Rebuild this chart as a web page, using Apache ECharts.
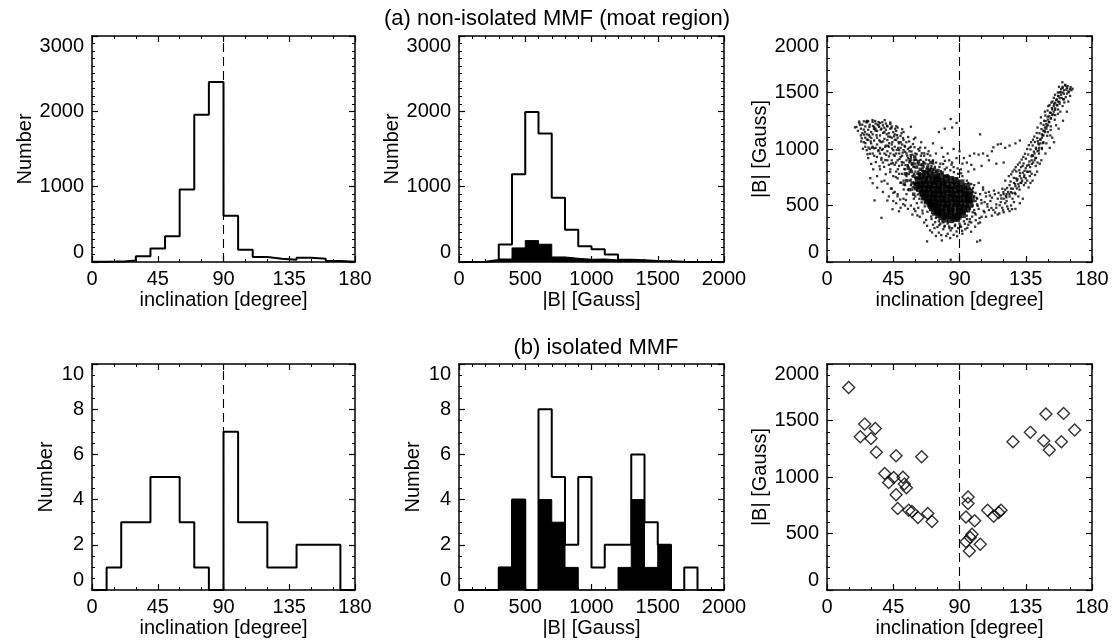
<!DOCTYPE html>
<html><head><meta charset="utf-8">
<script src="https://cdn.jsdelivr.net/npm/echarts@6/dist/echarts.min.js"></script>
<style>html,body{margin:0;padding:0;background:#fff}#c{width:1112px;height:644px}</style>
</head><body><div id="c"></div>
<script>
// ---------- data ----------
const incEdges = [0,10,20,30,40,50,60,70,80,90,100,110,120,130,140,150,160,170,180];
const bEdges = [0,100,200,300,400,500,600,700,800,900,1000,1100,1200,1300,1400,1500,1600,1700,1800,1900,2000];
const incTicks = [0,45,90,135,180];
const bTicks = [0,500,1000,1500,2000];

// (a) non-isolated MMF (moat region)
const aIncCounts = [2,5,20,75,178,342,964,1956,2391,613,164,67,44,31,58,44,13,2];
const aBOpen   = [0,3,27,231,1164,1991,1707,853,427,209,169,98,31,22,13,9,4,0,0,0];
const aBFilled = [0,0,0,40,187,284,236,67,49,36,40,27,18,22,13,9,4,0,0,0];

// (b) isolated MMF
const bIncCounts = [0,1,3,3,5,5,3,1,0,7,3,3,1,1,2,2,2,0];
const bBOpen   = [0,0,0,1,4,0,8,5,2,5,1,2,2,6,3,2,0,1,0,0];
const bBFilled = [0,0,0,1,4,0,4,3,1,0,0,0,1,4,1,2,0,0,0,0];

const bScatter = [
[14.7,1793],[25.6,1468],[22.6,1356],[32.8,1430],[29.9,1341],[33.5,1220],[46.9,1188],[64.3,1179],[39.2,1031],[41.9,951],[45.3,996],[51.6,998],[52.5,937],[53.9,905],[46.9,842],[48.0,721],[55.5,706],[57.7,694],[61.8,641],[68.4,677],[71.3,606],
[95.8,824],[95.8,765],[94.4,647],[100.3,612],[98.5,493],[97.3,464],[94.4,428],[96.7,346],[104.1,405],[109.1,706],[113.2,653],[116.6,685],[118.2,706],[126.3,1312],[138.1,1395],[147.2,1321],[148.7,1557],[151.0,1238],[160.7,1563],[159.2,1312],[168.2,1415]];

// scatter (a): hand-read dot positions [inclination, |B|]
const aArm = [
[20,1195],[22,1230],[23,1180],[24,1215],[21,1160],[25,1245],[24,1140],[26,1100],[25,1060],[23,1120],
[26,1200],[27,1235],[28,1170],[27,1130],[29,1215],[28,1080],[26,1020],[29,1000],[30,1150],[28,1245],[29,1110],[27,990],[30,1050],
[31,1240],[32,1195],[31,1130],[33,1225],[32,1075],[34,1160],[33,1010],[31,960],[34,1100],[35,1210],[32,940],[34,1040],[35,990],[33,1180],[31,1020],
[36,1230],[37,1180],[36,1120],[38,1210],[37,1060],[39,1150],[38,1000],[36,960],[39,1090],[40,1225],[37,920],[40,1030],[38,880],[39,960],[36,1010],[40,1170],
[41,1200],[42,1140],[41,1080],[43,1180],[42,1020],[44,1100],[43,960],[41,900],[44,1040],[45,1150],[42,860],[45,990],[43,820],[44,900],[45,760],[41,980],[44,1200],
[46,1130],[47,1080],[46,1020],[48,1100],[47,960],[49,1050],[48,900],[46,860],[49,990],[50,1060],[47,800],[50,930],[48,740],[49,850],[50,700],[46,940],[47,1160],[50,1010],[49,780],
[51,1040],[52,990],[51,940],[53,1020],[52,880],[54,960],[53,820],[51,780],[54,900],[55,1000],[52,720],[55,850],[53,680],[54,760],[55,640],[51,860],[52,1080],[55,920],[54,600],
[56,980],[57,930],[56,880],[58,950],[57,820],[59,900],[58,760],[56,720],[59,840],[60,960],[57,680],[60,800],[58,640],[59,700],[60,580],[56,800],[57,1020],[60,870],
[30,868],[31,697],[37,391],[41,544],[34,760],[28,920],[38,620],[42,580],[45,540],[47,520],[44,650],[36,820],[39,720],[48,600],[50,480],[52,560],[53,500],[46,620],
[19,1191],[57,1197],[48,1190],[52,1150],[43,1235]];
const aArm2 = [
[22.4,1213],[24.9,1172],[27.3,1249],[25.1,1127],[28.8,1196],[29.7,1067],[31.9,1178],[30.5,1011],[32.7,1248],[33.6,1122],[34.9,981],[35.4,1196],[36.2,1067],[37.6,1237],[36.9,905],[38.2,1142],[39.5,1019],[38.8,842],[40.9,1205],[41.6,1111],[40.2,948],[42.3,1052],[43.7,1186],[42.9,796],[44.2,1005],[45.6,1112],[44.8,874],[46.3,1179],[47.4,992],[46.7,752],[48.6,1061],[49.3,912],[48.1,821],[50.6,1139],[51.4,968],[50.1,703],[52.7,1028],[53.3,858],[52.1,642],[54.5,941],[55.8,1067],[54.2,782],[56.3,891],[57.4,978],[56.9,728],[58.7,844],[59.4,1016],[58.2,661],[60.6,905],[61.3,781],[60.1,685],[62.5,862],[63.8,940],[62.2,735],[64.6,808],[65.3,887],[61.7,598],[63.1,675],
[23.6,1095],[26.1,1052],[28.2,1013],[27.5,954],[33.2,884],[35.7,847],[31.4,820],[39.9,777],[41.1,693],[43.4,650],[45.1,612],[47.9,581],[49.7,553],[51.8,512],[53.6,548],[34.1,658],[29.4,742],[37.1,712],[32.3,545],[44.5,467],[48.9,449],
[26.7,1242],[30.9,1256],[35.0,1238],[39.2,1255],[43.0,1222],[47.0,1201],[51.1,1175],[55.1,1106],[59.0,1088],[63.3,1012],[66.1,962],[67.4,905],[68.8,864],[66.7,1011],[70.2,942],[71.9,890],[73.3,842],[69.6,812],[65.9,768],[67.8,736],
[21.8,1243],[23.2,1067],[24.4,1002],[25.8,1151],[27.1,1083],[28.4,1125],[29.1,958],[30.1,1098],[31.2,1203],[32.1,1005],[32.9,1163],[33.9,930],[34.4,1215],[35.5,1077],[36.5,1172],[37.2,992],[38.1,1067],[38.9,1189],[39.6,902],[40.5,1131],[41.4,1029],[42.1,935],[42.8,1108],[43.6,870],[44.4,1060],[45.3,950],[46.1,1081],[46.9,880],[47.6,1123],[48.3,1010],[49.1,960],[49.9,1116],[50.8,884],[51.6,1097],[52.5,823],[53.1,975],[53.9,1060],[54.8,857],[55.6,778],[56.1,1012],[56.8,945],[57.6,862],[58.4,1044],[59.2,781],[59.9,905],[60.9,955],[61.8,872],[62.7,985],[63.6,904],[64.4,962],[65.7,845],[66.9,870],[67.6,825],[68.3,955],[69.4,900],[70.7,832],[72.2,872],[74.1,880],
[76.4,842],[78.9,868],[81.3,835],[83.8,812],[86.2,795],[88.7,828],[91.1,785],[77.2,805],[80.1,895],[84.6,862]];
const aCore = [
[66,720],[69,730],[72,715],[75,725],[78,710],[84,730],
[64,680],[67,690],[70,675],[73,685],[76,670],[79,690],[82,680],[85,675],[88,690],
[66,640],[69,650],[72,635],[75,645],[78,630],[81,650],[84,640],[87,635],[90,650],[93,640],
[67,600],[70,610],[73,595],[76,605],[79,590],[82,610],[85,600],[88,595],[91,610],[94,600],[96,590],
[69,560],[72,570],[75,555],[78,565],[81,550],[84,570],[87,560],[90,555],[93,565],[96,550],
[70,520],[73,530],[76,515],[79,525],[82,510],[85,530],[88,520],[91,515],[94,525],
[72,480],[75,490],[78,475],[81,485],[84,470],[87,490],[90,480],[93,475],
[75,440],[78,450],[81,435],[84,445],[87,430],[90,450],
[78,400],[82,410],[86,395],[89,405],
[64,760],[67,780],[70,800],[73,770],[62,720],[61,680],[63,650],[65,610],[66,575],[68,540],[71,500],[73,455],[76,420],[80,380],[84,375],[88,385],[92,420],[95,470],[97,510],[98,560],[97,620],[95,670],[91,700],[87,720],[81,740],[77,760],[74,740]];
const aTransition = [
[56.5,905],[58.2,870],[59.6,930],[60.8,840],[62.1,890],[63.4,820],[64.8,860],[66.2,800],[57.3,800],[59.1,760],[61.2,745],[55.2,830],[57.8,700],[60.3,650],[62.8,780],[65.1,700],[68.4,840],[70.6,880],[72.9,820],[75.3,810],[78.1,790],[80.6,760],[69.2,760],[54.1,720],[56.2,640],[58.9,600],[53.3,780],[52.4,690]];
const aHalo = [
[62,800],[65,830],[68,790],[71,850],[74,800],[77,870],[80,820],[83,900],[86,840],[89,780],[92,760],[95,720],[98,690],[63,760],[66,880],[70,760],[76,780],[82,770],[88,740],[64,860],[72,900],[79,930],[85,880],[91,820],[60,740],[62,700],[61,640],[63,610],
[97,650],[99,620],[100,580],[98,540],[99,500],[97,470],[95,450],[100,460],[101,540],[96,700],
[70,460],[72,420],[74,390],[76,360],[79,350],[82,340],[85,360],[88,370],[91,400],[93,430],[95,410],[97,380],[69,490],[71,380],[67,530],[65,560],[64,590],
[99.2,655],[100.8,612],[101.6,568],[102.3,497],[100.4,433],[98.6,402],[96.8,356],[93.7,338],[90.6,322],[86.9,318],[83.2,301],[79.7,312],[76.3,326],[73.4,352],[70.8,402],[68.2,445],[66.4,492],[64.3,528],[62.7,560]];
const aLow = [
[68,182],[78,191],[104,191],[70,280],[73,300],[76,260],[79,290],[82,250],[85,300],[88,270],[91,310],[94,290],[72,330],[75,310],[80,320],[84,280],[87,330],[90,340],[93,360],[96,330],[98,350],[66,350],[68,320],[63,400],[65,430],[60,450],[58,420],[55,470],[57,500],[61,520],[74,230],[81,230],[86,240],[89,300],[92,250],[77,340],[83,315],[95,380],[62,480],[59,560],[84,20],
[71.4,262],[77.6,238],[83.7,212],[88.4,228],[91.8,276],[95.3,302],[97.9,268],[100.6,312],[102.8,342],[67.3,372],[64.8,455],[61.4,412],[59.2,470]];
const aRight = [
[101,420],[103,470],[105,520],[107,440],[109,490],[111,540],[113,460],[115,510],[117,430],[119,480],[121,520],[123,470],[125,500],[127,530],[102,560],[104,600],[106,640],[108,580],[110,620],[112,570],[114,600],[116,560],[118,590],[120,560],[122,600],[124,580],[126,560],[128,600],[130,580],[100,680],[103,700],[106,660],[101,370],[104,350],[108,400],[112,410],[116,420],[120,440],[124,450],[128,470],[131,520],[133,560],[105,400],[110,460],[115,480],[118,530],[122,540],[99,440],[102,510],[107,530],
[103.6,388],[106.4,452],[108.9,512],[111.7,478],[114.2,438],[117.3,502],[119.6,458],[122.4,492],[125.7,468],[104.8,548],[107.7,612],[110.6,588],[113.4,632],[116.5,612],[119.1,648],[121.8,572],[124.9,618]];
const aRise = [
[120,600],[121,640],[123,620],[124,680],[125,650],[127,700],[128,670],[129,720],[130,690],[131,760],[132,740],[133,790],[134,770],[135,830],[136,800],[137,860],[138,840],[139,900],[140,880],[140,940],[141,960],[142,920],[142,1000],[143,980],[144,1040],[144,1010],[145,1080],[145,1050],[146,1100],[146,1130],[147,1160],[147,1120],[148,1190],[148,1150],[149,1220],[149,1180],[150,1260],[150,1210],[151,1290],[151,1240],[152,1320],[152,1270],[153,1350],[153,1300],[154,1380],[154,1330],[155,1410],[155,1360],[156,1440],[156,1390],[157,1470],[157,1420],[158,1500],[158,1450],[159,1530],[159,1480],[160,1550],[160,1500],[161,1520],[162,1560],[163,1540],[164,1510],[165,1530],[166,1520],[158,1400],[155,1300],[152,1200],[150,1150],[147,1060],[144,960],[141,900],[138,800],[135,740],[132,700],[129,650],[126,610],[153,1100],[149,1050],[146,1000],[143,880],[139,780],[136,720],[157,1350],[161,1440],[160,1380],[163,1490],
[118.4,562],[119.8,618],[121.6,584],[122.3,655],[123.9,601],[124.7,712],[126.2,648],[126.9,744],[127.8,689],[128.6,801],[129.4,732],[130.3,668],[131.1,786],[131.8,839],[132.6,719],[133.5,872],[134.2,807],[135.1,914],[135.9,852],[136.7,951],[137.4,889],[138.2,996],[138.9,935],[139.7,1031],[140.5,977],[141.2,1062],[141.9,1011],[142.8,1097],[143.5,1049],[144.3,1139],[144.9,1088],[145.7,1176],[146.4,1121],[147.1,1214],[147.8,1163],[148.5,1247],[149.2,1199],[149.9,1286],[150.6,1236],[151.4,1322],[152.1,1271],[152.8,1361],[153.6,1307],[154.3,1398],[155.0,1346],[155.8,1433],[156.5,1385],[157.2,1468],[157.9,1417],[158.7,1505],[159.4,1452],[160.1,1541],[160.9,1489],[161.7,1568],[162.6,1525],[163.4,1557],[164.3,1503],[165.5,1548],[166.8,1533],[161.2,1412],[156.9,1312],[154.7,1259],[151.9,1168],[149.6,1117],[146.8,1052],[143.9,988],[141.5,921],[139.1,868],[136.4,798],[133.9,752],[131.5,701],[154.1,1453],[151.2,1389],[148.3,1296],[145.2,1227],[142.4,1142],[139.9,1082],[137.1,1034],[134.5,958],[132.2,906],[129.7,862],[127.3,817],[125.1,776],
[128.5,740],[130.6,812],[132.9,850],[134.8,700],[137.8,760],[139.3,945],[141.8,850],[143.2,1070],[145.9,1010],[147.5,1250],[149.8,1340],[151.7,1120],[153.2,1420],[155.6,1210],[156.8,1500],[158.5,1330],[160.4,1440],[162.2,1460],[163.9,1420],[165.1,1470],[159.9,1590],[157.6,1550],[154.9,1480],[152.4,1410],[150.3,1380],[148.0,1330],[145.3,1280],[143.0,1190],[140.8,1110],[138.6,1060],[136.0,1000],[133.4,930],[130.9,880],[128.2,840],[126.0,800],[123.5,760],[121.1,720],[127.7,612],[130.8,640],[133.8,680],[136.9,660],[139.6,720],[142.7,800],[145.6,900],[148.4,960],[151.3,1010],[154.2,1060],[157.3,1180],[160.3,1250],[162.9,1330],[144.6,870],[141.3,770],[138.2,700]];
const aSparse = [
[80,1180],[84,1265],[85,1190],[88,1230],[76,1150],[72,1050],[78,1010],[82,960],[86,1000],[90,980],[93,920],[95,880],[97,940],[100,960],[103,950],[106,960],[109,940],[112,980],[113,1015],[116,1040],[118,1045],[121,1010],[124,1030],[128,1050],[131,1075],[104,1130],[110,900],[115,870],[120,880],[98,860],[92,870],[88,920],[100,820],[96,800],[105,850],[66,940],[69,980],[74,960],[62,1000],[64,1060],[60,1100],[102,180]];

const refInclination = 90;

// ---------- helpers ----------
function stepLine(edges, counts){
  const pts = [];
  for (let i=0;i<counts.length;i++){ pts.push([edges[i],counts[i]]); pts.push([edges[i+1],counts[i]]); }
  return pts;
}
const FONT = 'Liberation Sans';
const BLACK = '#000';
const grids = [
  {left:92, top:36, width:263, height:226},
  {left:459, top:36, width:265, height:226},
  {left:827, top:36, width:265, height:226},
  {left:92, top:364, width:263, height:226},
  {left:459, top:364, width:265, height:226},
  {left:827, top:364, width:265, height:226}
];
const xAxes = [], yAxes = [];
function addAxes(g, xr, yr, xname, yname){
  const common = (min,max,interval,minorSplit)=>({
    type:'value', min, max, interval, gridIndex:g,
    axisLine:{show:true, onZero:false, lineStyle:{color:BLACK, width:1.5}},
    axisTick:{show:true, inside:true, length:6, lineStyle:{color:BLACK, width:1.2}},
    minorTick:{show:true, splitNumber:minorSplit, length:3, lineStyle:{color:BLACK, width:1}},
    splitLine:{show:false}, minorSplitLine:{show:false}
  });
  const lbl = {color:BLACK, fontSize:20, fontFamily:FONT, formatter:(v)=>String(v)};
  const name = {color:BLACK, fontSize:20, fontFamily:FONT};
  xAxes.push(Object.assign(common(xr[0],xr[1],xr[2],xr[3]), {position:'bottom',
    axisLabel:Object.assign({margin:7}, lbl), name:xname, nameLocation:'middle', nameGap:28,
    nameMoveOverlap:false, nameTextStyle:name}));
  xAxes.push(Object.assign(common(xr[0],xr[1],xr[2],xr[3]), {position:'top', axisLabel:{show:false}}));
  yAxes.push(Object.assign(common(yr[0],yr[1],yr[2],yr[3]), {position:'left',
    axisLabel:Object.assign({margin:8, verticalAlignMinLabel:'bottom', verticalAlignMaxLabel:'top'}, lbl),
    name:yname, nameLocation:'middle', nameGap:36, nameTextStyle:name}));
  yAxes.push(Object.assign(common(yr[0],yr[1],yr[2],yr[3]), {position:'right', axisLabel:{show:false}}));
}
const incR = [incTicks[0], incTicks[incTicks.length-1], incTicks[1]-incTicks[0], 3];
const bR = [bTicks[0], bTicks[bTicks.length-1], bTicks[1]-bTicks[0], 5];
addAxes(0, incR, [0,3000,1000,10], 'inclination [degree]', 'Number');
addAxes(1, bR, [0,3000,1000,10], '|B| [Gauss]', 'Number');
addAxes(2, incR, [0,2000,500,5], 'inclination [degree]', '|B| [Gauss]');
addAxes(3, incR, [0,10,2,4], 'inclination [degree]', 'Number');
addAxes(4, bR, [0,10,2,4], '|B| [Gauss]', 'Number');
addAxes(5, incR, [0,2000,500,5], 'inclination [degree]', '|B| [Gauss]');

const series = [];
function ax(g){ return {xAxisIndex:2*g, yAxisIndex:2*g}; }
function dashed(g, ymax){
  series.push(Object.assign({type:'line', data:[[refInclination,0],[refInclination,ymax]], showSymbol:false, silent:true,
    lineStyle:{color:BLACK, width:1.1, type:[9,5]}, z:1}, ax(g)));
}
function openHist(g, edges, counts){
  series.push(Object.assign({type:'line', data:stepLine(edges,counts), showSymbol:false, silent:true,
    lineStyle:{color:BLACK, width:2}, z:3}, ax(g)));
}
function filledHist(g, edges, counts){
  series.push(Object.assign({type:'line', data:stepLine(edges,counts), showSymbol:false, silent:true,
    lineStyle:{color:BLACK, width:1}, areaStyle:{color:BLACK, opacity:1, origin:'start'}, z:2}, ax(g)));
}
function dots(g, data, size){
  series.push(Object.assign({type:'scatter', data, symbol:'rect', symbolSize:size, silent:true,
    itemStyle:{color:BLACK}, z:2}, ax(g)));
}
dashed(0,3000); openHist(0, incEdges, aIncCounts);
filledHist(1, bEdges, aBFilled); openHist(1, bEdges, aBOpen);
dashed(2,2000);
dots(2, aArm.concat(aArm2, aHalo, aLow, aRight, aRise, aSparse), 2.3);
dots(2, aTransition, 3.5);
dots(2, aCore, 7);
dashed(3,10); openHist(3, incEdges, bIncCounts);
filledHist(4, bEdges, bBFilled); openHist(4, bEdges, bBOpen);
dashed(5,2000);
series.push(Object.assign({type:'scatter', data:bScatter, symbol:'diamond', symbolSize:[12,12], silent:true,
  itemStyle:{color:'rgba(0,0,0,0)', borderColor:BLACK, borderWidth:1.4}, z:3}, ax(5)));

const chart = echarts.init(document.getElementById('c'), null, {renderer:'canvas'});
chart.setOption({
  animation:false, backgroundColor:'#fff',
  title:[
    {text:'(a) non-isolated MMF (moat region)', left:552, top:3, textAlign:'center',
      textStyle:{color:BLACK, fontSize:22, fontWeight:'normal', fontFamily:FONT}},
    {text:'(b) isolated MMF', left:591, top:332, textAlign:'center',
      textStyle:{color:BLACK, fontSize:22, fontWeight:'normal', fontFamily:FONT}}
  ],
  grid:grids, xAxis:xAxes, yAxis:yAxes, series
});
</script></body></html>
